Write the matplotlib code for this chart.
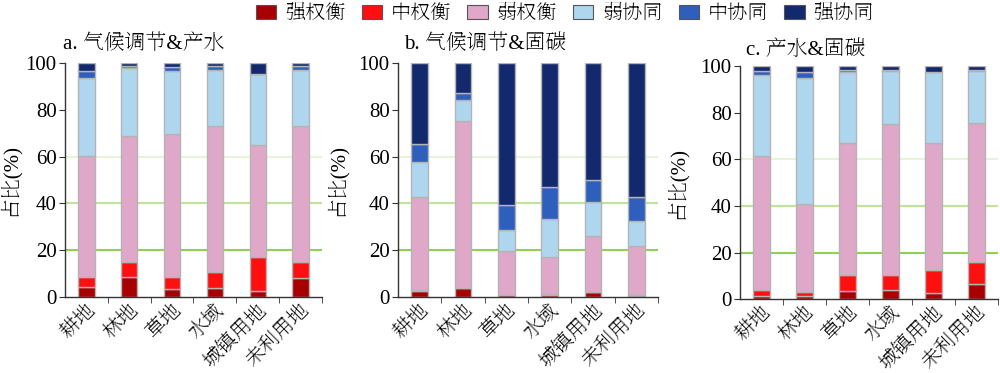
import matplotlib
matplotlib.use("Agg")
import matplotlib.pyplot as plt
import numpy as np
from matplotlib.patches import Patch

plt.rcParams['font.family'] = ['Liberation Serif', 'Chiron Sung HK', 'Noto Sans CJK SC', 'DejaVu Sans']

categories = ['耕地', '林地', '草地', '水域', '城镇用地', '未利用地']
series_names = ['强权衡', '中权衡', '弱权衡', '弱协同', '中协同', '强协同']
series_colors = ['#a80000', '#ff1010', '#e0a8c8', '#aed6ef', '#2e5fbd', '#13296e']
panel_titles = ['a. 气候调节&产水', 'b. 气候调节&固碳', 'c. 产水&固碳']
y_ticks = [0, 20, 40, 60, 80, 100]

# panel a: 气候调节&产水 (segment percentages per category)
a_strong_tradeoff = [4.1, 8.4, 3.4, 3.7, 2.4, 8.0]
a_mid_tradeoff = [4.6, 6.6, 5.0, 6.8, 14.8, 7.0]
a_weak_tradeoff = [51.7, 53.8, 61.3, 62.6, 47.8, 58.1]
a_weak_synergy = [33.2, 29.2, 26.9, 23.9, 30.2, 23.9]
a_mid_synergy = [3.0, 0.9, 1.7, 1.6, 0.1, 1.6]
a_strong_synergy = [3.4, 1.1, 1.7, 1.4, 4.7, 1.4]

# panel b: 气候调节&固碳
b_strong_tradeoff = [2.4, 3.8, 0.7, 1.0, 2.1, 0.6]
b_mid_tradeoff = [0.4, 0.2, 0.1, 0.1, 0.2, 0.1]
b_weak_tradeoff = [39.9, 71.4, 18.7, 16.0, 23.8, 21.2]
b_weak_synergy = [14.8, 8.8, 9.3, 16.2, 14.4, 10.4]
b_mid_synergy = [7.9, 3.1, 10.4, 13.7, 9.6, 10.3]
b_strong_synergy = [34.6, 12.7, 60.8, 53.0, 49.9, 57.4]

# panel c: 产水&固碳
c_strong_tradeoff = [1.3, 1.3, 3.7, 4.1, 2.6, 6.7]
c_mid_tradeoff = [2.7, 1.8, 6.6, 6.2, 10.1, 9.4]
c_weak_tradeoff = [57.6, 37.7, 56.5, 64.9, 54.1, 59.5]
c_weak_synergy = [34.5, 54.1, 30.5, 22.7, 30.6, 22.3]
c_mid_synergy = [1.6, 2.7, 1.1, 0.5, 0.2, 0.5]
c_strong_synergy = [2.3, 2.4, 1.6, 1.6, 2.4, 1.6]

panels = [
    [a_strong_tradeoff, a_mid_tradeoff, a_weak_tradeoff, a_weak_synergy, a_mid_synergy, a_strong_synergy],
    [b_strong_tradeoff, b_mid_tradeoff, b_weak_tradeoff, b_weak_synergy, b_mid_synergy, b_strong_synergy],
    [c_strong_tradeoff, c_mid_tradeoff, c_weak_tradeoff, c_weak_synergy, c_mid_synergy, c_strong_synergy],
]

fig = plt.figure(figsize=(10, 3.73), dpi=100)
positions = [
    [0.065, 0.204, 0.257, 0.627],
    [0.398, 0.204, 0.260, 0.627],
    [0.740, 0.198, 0.258, 0.625],
]
ylabel_x = [-0.175, -0.196, -0.205]
title_x = [-0.008, 0.025, 0.025]
title_pad = [10, 10, 8]
grid_colors = {20: '#92d050', 40: '#bfe59a', 60: '#e6f4d8'}

x = np.arange(len(categories))
for i, (pos, data) in enumerate(zip(positions, panels)):
    ax = fig.add_axes(pos)
    for yv, col in grid_colors.items():
        ax.axhline(yv, color=col, lw=1.5, zorder=0)
    bottom = np.zeros(len(categories))
    for vals, col in zip(data, series_colors):
        vals = np.array(vals)
        ax.bar(x, vals, 0.38, bottom=bottom, color=col, edgecolor='#b4b4b4',
               linewidth=1.0, zorder=2)
        bottom += vals
    ax.set_xlim(-0.5, 5.5)
    ax.set_ylim(0, 100)
    ax.set_yticks(y_ticks)
    ax.tick_params(axis='y', labelsize=15, length=4, direction='out', color='#333333', pad=2)
    ax.set_xticks(x)
    ax.set_xticklabels(categories, rotation=45, ha='right', rotation_mode='anchor',
                       fontsize=14.5)
    ax.tick_params(axis='x', which='major', length=0, pad=3)
    ax.set_xticks(np.arange(0.5, 6.0, 1.0), minor=True)
    ax.tick_params(axis='x', which='minor', length=4, direction='out', color='#333333')
    for s in ['top', 'right']:
        ax.spines[s].set_visible(False)
    for s in ['left', 'bottom']:
        ax.spines[s].set_color('#333333')
        ax.spines[s].set_linewidth(1.0)
    ax.set_ylabel('占比(%)', fontsize=15)
    ax.yaxis.set_label_coords(ylabel_x[i], 0.5)
    ax.set_title(panel_titles[i], fontsize=15, loc='left', pad=title_pad[i], x=title_x[i])

handles = [Patch(facecolor=c, edgecolor='#555555', linewidth=0.8) for c in series_colors]
fig.legend(handles, series_names, ncol=6, loc='center', bbox_to_anchor=(0.565, 0.962),
           frameon=False, fontsize=14.5, handlelength=1.0, handleheight=0.7,
           handletextpad=0.45, columnspacing=0.8, borderaxespad=0)

fig.savefig('out.png', dpi=100)
